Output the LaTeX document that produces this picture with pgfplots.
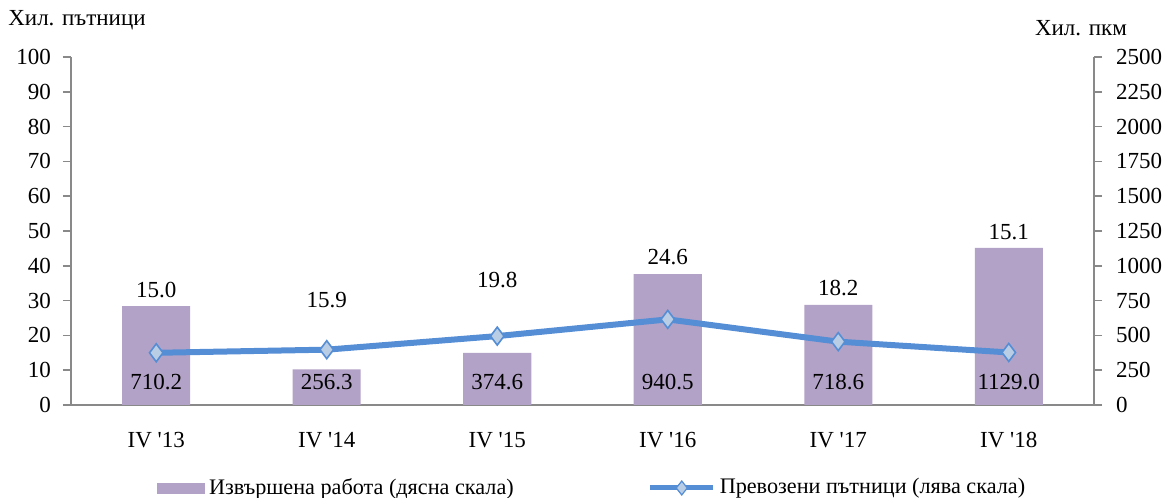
\documentclass[border=0pt]{standalone}
\usepackage{fontspec}
\setmainfont{Liberation Serif}[Ligatures=TeXOff]
\usepackage{pgfplots}
\pgfplotsset{compat=1.18}
\definecolor{barc}{HTML}{B3A2C7}
\definecolor{linec}{HTML}{558ED5}
\definecolor{markc}{HTML}{B9CDE5}
\definecolor{axc}{HTML}{898989}
\begin{document}
\fontsize{11.5}{13}\selectfont
\begin{tikzpicture}
\useasboundingbox (-35.5pt,-46.5pt) rectangle (548.5pt,202.5pt);
\pgfplotsset{every axis/.append style={scale only axis, width=511.5pt, height=174pt,
  xmin=-0.5, xmax=5.5, font=\fontsize{11.5}{13}\selectfont,
  /pgf/number format/assume math mode=true, /pgf/number format/1000 sep={},
  axis line style={axc, line width=0.8pt}, tick style={axc, line width=0.8pt},
  tick align=outside, major tick length=4pt}}
\begin{axis}[axis y line*=right, axis x line*=bottom, ymin=0, ymax=2500,
  ytick={0,250,...,2500}, xtick={0,...,5},
  xticklabels={IV '13,IV '14,IV '15,IV '16,IV '17,IV '18},
  x tick style={draw=none}, xticklabel style={yshift=-5.5pt},
  yticklabel style={xshift=3pt},
  every node near coord/.style={anchor=center, text=black, font=\fontsize{11.5}{13}\selectfont}]
\addplot[ybar, bar width=34pt, fill=barc, draw=none] coordinates {(0,710.2)(1,256.3)(2,374.6)(3,940.5)(4,718.6)(5,1129.0)};
\addplot[draw=none, mark=none, nodes near coords, point meta=explicit symbolic] coordinates {(0,165)[710.2] (1,165)[256.3] (2,165)[374.6] (3,165)[940.5] (4,165)[718.6] (5,165)[1129.0]};
\addplot[draw=none, mark=none, nodes near coords, point meta=explicit symbolic] coordinates {(0,826)[15.0] (1,754)[15.9] (2,898)[19.8] (3,1063)[24.6] (4,840)[18.2] (5,1243)[15.1]};
\end{axis}
\begin{axis}[axis y line*=left, axis x line=none, ymin=0, ymax=100,
  ytick={0,10,...,100}, yticklabel style={xshift=-2pt},
  legend columns=2,
  legend style={at={(0.5105,-0.2385)}, anchor=center, draw=none, fill=none,
    font=\fontsize{11.1}{13}\selectfont,
    /tikz/every even column/.append style={column sep=65pt}}]
\addlegendimage{legend image code/.code={\fill[barc] (0pt,-2.5pt) rectangle (23.5pt,2.5pt);}}
\addlegendentry{Извършена работа (дясна скала)}
\addplot[linec, line width=3pt, mark=diamond*, mark size=4.5pt,
  mark options={fill=markc, draw=linec, line width=0.8pt},
  legend image code/.code={\draw[linec, line width=2.5pt] (0pt,0pt) -- (31.5pt,0pt);
    \filldraw[fill=markc, draw=linec, line width=0.6pt] (15.75pt,-3.5pt) -- (18.5pt,0pt) -- (15.75pt,3.5pt) -- (13pt,0pt) -- cycle;}]
  coordinates {(0,15.0)(1,15.9)(2,19.8)(3,24.6)(4,18.2)(5,15.1)};
\addlegendentry{Превозени пътници (лява скала)}
\end{axis}
\node at (3pt,192.5pt) {Хил. пътници};
\node at (505pt,188.5pt) {Хил. пкм};
\end{tikzpicture}
\end{document}
